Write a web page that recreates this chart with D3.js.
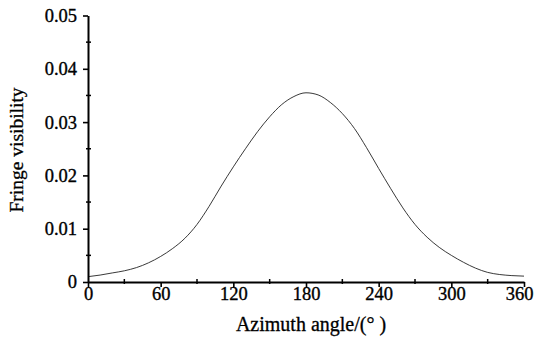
<!DOCTYPE html>
<html><head><meta charset="utf-8">
<script src="https://cdn.jsdelivr.net/npm/d3@7"></script>
<style>body{margin:0;background:#fff}svg{display:block}</style>
</head><body>
<svg id="c" width="537" height="347"></svg>
<script>
const angles = [0,10,20,30,40,50,60,70,80,90,100,110,120,130,140,150,160,170,180,190,200,210,220,230,240,250,260,270,280,290,300,310,320,330,340,350,360];
const visibility = [0.0010,0.0013,0.0017,0.0021,0.0027,0.0036,0.0048,0.0063,0.0082,0.0108,0.0142,0.0180,0.0216,0.0250,0.0282,0.0310,0.0333,0.0348,0.0355,0.0351,0.0337,0.0316,0.0288,0.0252,0.0213,0.0175,0.0139,0.0108,0.0084,0.0065,0.0050,0.0037,0.0026,0.0018,0.0014,0.0012,0.0011];
const xTicks = [0,60,120,180,240,300,360];
const yTicks = [0,0.01,0.02,0.03,0.04,0.05];
const xTitle = "Azimuth angle/(\u00B0 )";
const yTitle = "Fringe visibility";

const FONT = '"Liberation Serif","Tinos","Times New Roman",Times,"DejaVu Serif",serif';
const svg = d3.select("#c");
const x = d3.scaleLinear().domain([0,360]).range([88,524]);
const y = d3.scaleLinear().domain([0,0.05]).range([282,15.5]);

svg.append("path")
  .datum(angles.map((a,i)=>[a,visibility[i]]))
  .attr("fill","none").attr("stroke","#222").attr("stroke-width",0.9)
  .attr("d", d3.line().x(d=>x(d[0])).y(d=>y(d[1])).curve(d3.curveMonotoneX));

const gx = svg.append("g");
d3.range(30,360,60).forEach(v=>{
  gx.append("line").attr("x1",x(v)).attr("x2",x(v)).attr("y1",y(0)-3).attr("y2",y(0)+2).attr("stroke","#000").attr("stroke-width",1.5);
});
d3.range(0.005,0.05,0.01).forEach(v=>{
  gx.append("line").attr("x1",x(0)-2).attr("x2",x(0)+3).attr("y1",y(v)).attr("y2",y(v)).attr("stroke","#000").attr("stroke-width",1.5);
});

const xa = svg.append("g").attr("transform",`translate(0,${y(0)})`)
  .call(d3.axisBottom(x).tickValues(xTicks).tickFormat(d3.format("d")).tickSize(5).tickSizeOuter(0));
const ya = svg.append("g").attr("transform",`translate(${x(0)},0)`)
  .call(d3.axisLeft(y).tickValues(yTicks).tickFormat(d=>d===0?"0":d3.format(".2f")(d)).tickSize(5).tickSizeOuter(0));
[xa,ya].forEach(g=>{
  g.attr("font-family",FONT).attr("font-size",18.5);
  g.select(".domain").attr("stroke","#000").attr("stroke-width",2);
  g.selectAll(".tick line").attr("stroke","#000").attr("stroke-width",1.6);
  g.selectAll(".tick text").attr("fill","#000").attr("stroke","#000").attr("stroke-width",0.35);
});
xa.selectAll(".tick text").attr("dy","0.95em").attr("y",0)
  .attr("dx", d => d === 360 ? -5 : 0);
ya.selectAll(".tick text").attr("x",-11);

svg.append("text").attr("x",311).attr("y",331).attr("text-anchor","middle")
  .attr("font-family",FONT).attr("font-size",20).attr("stroke","#000").attr("stroke-width",0.3).text(xTitle);
svg.append("text").attr("transform","translate(23,150) rotate(-90)").attr("text-anchor","middle")
  .attr("font-family",FONT).attr("font-size",19.5).attr("stroke","#000").attr("stroke-width",0.3).text(yTitle);
</script>
</body></html>
